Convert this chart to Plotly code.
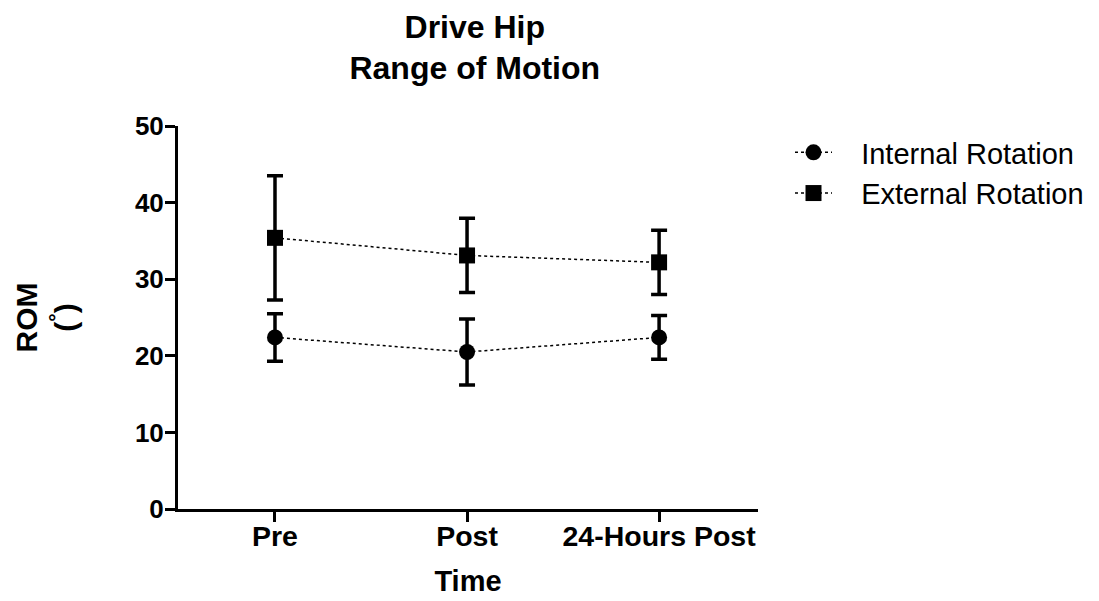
import plotly.graph_objects as go

# Time points and range-of-motion summaries (mean and SD, degrees)
time_points = ["Pre", "Post", "24-Hours Post"]
internal_mean = [22.4, 20.5, 22.4]
internal_sd = [3.1, 4.3, 2.85]
external_mean = [35.4, 33.1, 32.2]
external_sd = [8.1, 4.85, 4.2]

FONT = "Liberation Sans, Arial, sans-serif"
W, H = 1099, 601
# plot frame in pixels (left, right, top, bottom)
PL, PR, PT, PB = 178, 758, 126, 509
GAP = "\u00a0\u00a0\u00a0"  # spacing between legend symbol and label

fig = go.Figure()

fig.add_trace(go.Scatter(
    x=time_points, y=internal_mean, name=GAP + "Internal Rotation",
    mode="lines+markers",
    line=dict(color="black", width=1.5, dash="dot"),
    marker=dict(symbol="circle", size=16, color="black"),
    error_y=dict(type="data", array=internal_sd, visible=True,
                 color="black", thickness=3.5, width=8),
))
fig.add_trace(go.Scatter(
    x=time_points, y=external_mean, name=GAP + "External Rotation",
    mode="lines+markers",
    line=dict(color="black", width=1.5, dash="dot"),
    marker=dict(symbol="square", size=16, color="black"),
    error_y=dict(type="data", array=external_sd, visible=True,
                 color="black", thickness=3.5, width=8),
))

fig.update_layout(
    width=W, height=H,
    paper_bgcolor="white", plot_bgcolor="white",
    margin=dict(l=0, r=0, t=0, b=0),
    font=dict(family=FONT, color="black"),
    title=dict(
        text="Drive Hip<br>Range of Motion",
        x=0.432, xanchor="center", y=0.937, yanchor="top",
        font=dict(size=32, family=FONT, color="black", weight="bold"),
    ),
    xaxis=dict(
        type="category", range=[-0.505, 2.515],
        domain=[PL / W, PR / W],
        showline=True, linecolor="black", linewidth=3,
        ticks="outside", ticklen=10, tickwidth=3, tickcolor="black",
        ticklabelstandoff=-10,
        showgrid=False, zeroline=False, automargin=False,
        tickfont=dict(size=28.5, family=FONT, weight="bold"),
        title=dict(text="Time", font=dict(size=29, family=FONT, weight="bold"), standoff=20),
    ),
    yaxis=dict(
        range=[0, 50], tickvals=[0, 10, 20, 30, 40, 50],
        domain=[(H - PB) / H, (H - PT) / H],
        showline=True, linecolor="black", linewidth=3,
        ticks="outside", ticklen=10, tickwidth=3, tickcolor="black",
        ticklabelstandoff=-4,
        showgrid=False, zeroline=False, automargin=False,
        tickfont=dict(size=26, family=FONT, weight="bold"),
        title=dict(text="ROM<br>(<sup>°</sup>)", font=dict(size=30, family=FONT, weight="bold"), standoff=50),
    ),
    legend=dict(
        x=790 / W, y=(H - 127) / H, xanchor="left", yanchor="top",
        font=dict(size=29, family=FONT),
        bgcolor="rgba(0,0,0,0)",
        itemwidth=37,
    ),
    showlegend=True,
)

fig.write_html("out.html")
